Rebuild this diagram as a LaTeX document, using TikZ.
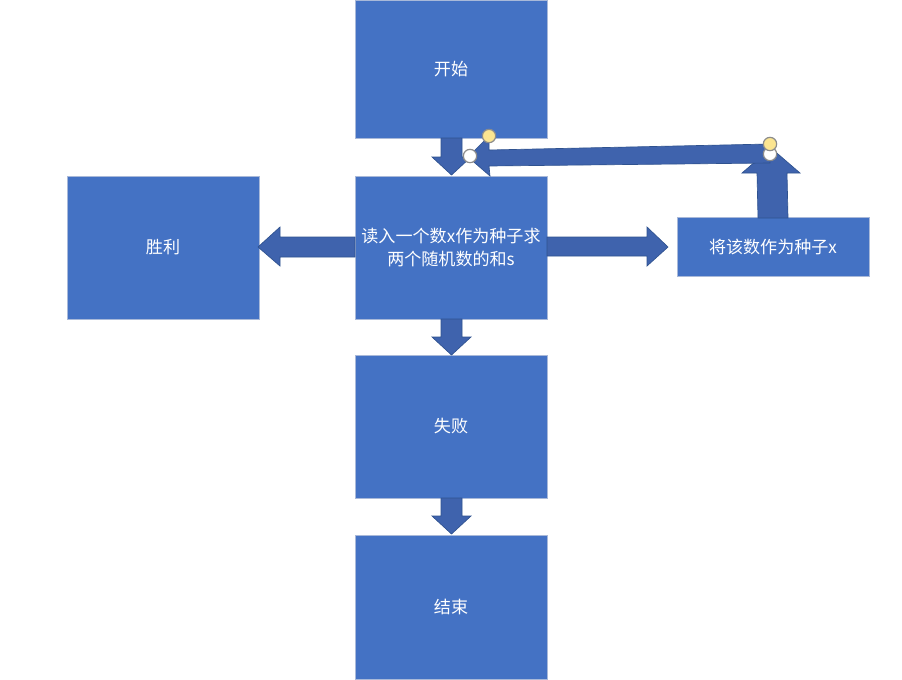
\documentclass[tikz,border=0pt]{standalone}
\usepackage{fontspec}
\newfontfamily\cjk{Noto Sans CJK SC}
\definecolor{boxfill}{HTML}{4472C4}
\definecolor{boxline}{HTML}{A9B9D9}
\definecolor{arrfill}{HTML}{3F63AD}
\definecolor{arrline}{HTML}{2F528F}
\definecolor{hyellow}{HTML}{FBE591}
\definecolor{hline}{HTML}{8C8C8C}
\begin{document}
\begin{tikzpicture}[x=0.75pt,y=-0.75pt,
  box/.style={draw=boxline,line width=0.6pt,fill=boxfill,inner sep=0pt,outer sep=0pt,
    text=white,font=\cjk\fontsize{12.8}{17.5}\selectfont,align=center,
    minimum width=144pt,minimum height=107.25pt},
  blockarrow/.style={fill=arrfill,draw=arrline,line width=0.5pt,line join=miter},
  handle/.style={circle,draw=hline,line width=0.9pt,inner sep=0pt,minimum size=10pt}]
\useasboundingbox (0,0) rectangle (902,679);
\fill[white] (0,0) rectangle (902,679);
% boxes
\node[box,minimum height=103.5pt] (start) at (451,69) {开始};
\node[box] (read) at (451,247.5) {读入一个数x作为种子求\\两个随机数的和s};
\node[box] (win) at (163,247.5) {胜利};
\node[box] (fail) at (451,426.5) {失败};
\node[box,minimum height=108pt] (end) at (451,607) {结束};
\node[box,minimum height=44.25pt] (seed) at (773,246.5) {将该数作为种子x};
% block arrows
% start -> read
\draw[blockarrow] (441,138) -- (462,138) -- (462,157) -- (471,157) -- (451.5,175) -- (432,157) -- (441,157) -- cycle;
% read -> fail
\draw[blockarrow] (441,319) -- (462,319) -- (462,337) -- (471,337) -- (451.5,355) -- (432,337) -- (441,337) -- cycle;
% fail -> end
\draw[blockarrow] (441,498) -- (462,498) -- (462,516) -- (471,516) -- (451.5,534) -- (432,516) -- (441,516) -- cycle;
% read -> win
\draw[blockarrow] (355,237) -- (280,237) -- (280,227) -- (258,247) -- (280,266) -- (280,257) -- (355,257) -- cycle;
% read -> seed
\draw[blockarrow] (547,237) -- (647,237) -- (647,227) -- (668,247) -- (647,266) -- (647,256) -- (547,256) -- cycle;
% seed -> up
\draw[blockarrow] (758,218) -- (788,218) -- (787,173) -- (800,173) -- (771,148) -- (742,173) -- (757,173) -- cycle;
% long arrow back to read
\draw[blockarrow] (770,144) -- (489,150) -- (489,136) -- (468,157) -- (490,176) -- (489,166) -- (770,163) -- cycle;
% handles
\node[handle,fill=white] (h1) at (470,156) {};
\node[handle,fill=hyellow] (h2) at (489,136) {};
\node[handle,fill=white] (h3) at (770,154) {};
\node[handle,fill=hyellow] (h4) at (770,144) {};
\end{tikzpicture}
\end{document}
